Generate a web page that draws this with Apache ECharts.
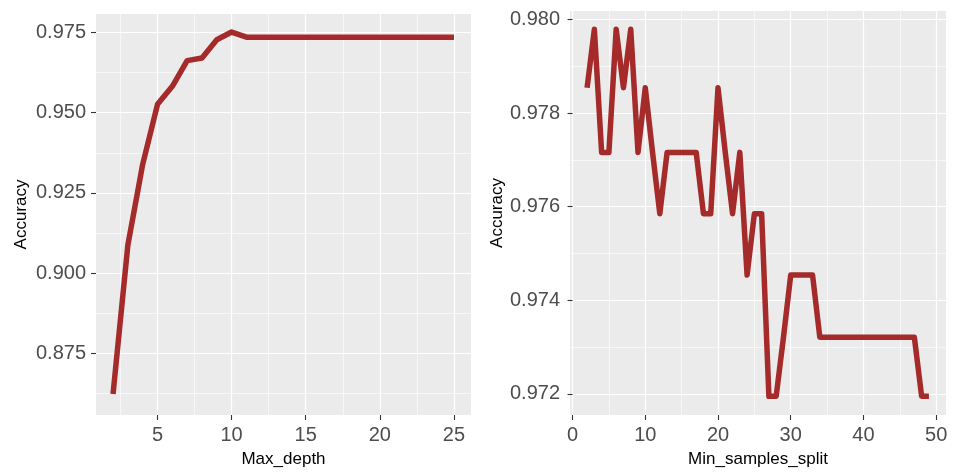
<!DOCTYPE html>
<html>
<head>
<meta charset="utf-8">
<script src="https://cdn.jsdelivr.net/npm/echarts@6/dist/echarts.min.js"></script>
<style>
  html, body { margin: 0; padding: 0; background: #ffffff; }
  #chart { width: 953px; height: 473px; }
</style>
</head>
<body>
<div id="chart"></div>
<script>
// Decision tree tuning: accuracy against max_depth (left) and min_samples_split (right)
const depthValues = [2, 3, 4, 5, 6, 7, 8, 9, 10, 11, 12, 13, 14, 15, 16, 17, 18, 19, 20, 21, 22, 23, 24, 25];
const depthAccuracy = [0.8624, 0.9088, 0.9339, 0.9526, 0.9582, 0.9662, 0.9670, 0.9727, 0.9751, 0.9735,
  0.9735, 0.9735, 0.9735, 0.9735, 0.9735, 0.9735, 0.9735, 0.9735, 0.9735, 0.9735, 0.9735, 0.9735, 0.9735, 0.9735];

const splitValues = [2, 3, 4, 5, 6, 7, 8, 9, 10, 11, 12, 13, 14, 15, 16, 17, 18, 19, 20, 21, 22, 23, 24, 25,
  26, 27, 28, 29, 30, 31, 32, 33, 34, 35, 36, 37, 38, 39, 40, 41, 42, 43, 44, 45, 46, 47, 48, 49];
const splitAccuracy = [
  0.97854, 0.97979, 0.97716, 0.97716, 0.97979, 0.97854, 0.97979, 0.97716, 0.97854, 0.97716,
  0.97585, 0.97716, 0.97716, 0.97716, 0.97716, 0.97716, 0.97585, 0.97585, 0.97854, 0.97716,
  0.97585, 0.97716, 0.97454, 0.97585, 0.97585, 0.97195, 0.97195, 0.97321, 0.97454, 0.97454,
  0.97454, 0.97454, 0.97321, 0.97321, 0.97321, 0.97321, 0.97321, 0.97321, 0.97321, 0.97321,
  0.97321, 0.97321, 0.97321, 0.97321, 0.97321, 0.97321, 0.97195, 0.97195];

// Tick positions (major carry labels, minor only draw thin grid lines)
const depthXTicks = [5, 10, 15, 20, 25];
const depthXMinor = [2.5, 7.5, 12.5, 17.5, 22.5];
const depthYTicks = [0.875, 0.900, 0.925, 0.950, 0.975];
const depthYMinor = [0.8625, 0.8875, 0.9125, 0.9375, 0.9625];
const splitXTicks = [0, 10, 20, 30, 40, 50];
const splitXMinor = [5, 15, 25, 35, 45];
const splitYTicks = [0.972, 0.974, 0.976, 0.978, 0.980];
const splitYMinor = [0.973, 0.975, 0.977, 0.979];

const FONT = 'Liberation Sans, Arial, sans-serif';
const LINE_COLOR = '#A52A2A';

function mainAxis(gridIndex, min, max, ticks, fmt, extra) {
  return Object.assign({
    type: 'value', gridIndex, min, max,
    axisLine: { show: false },
    axisTick: { show: true, length: 5, customValues: ticks, lineStyle: { color: '#333333', width: 1.1 } },
    axisLabel: { customValues: ticks, formatter: fmt, color: '#4D4D4D', fontSize: 20, fontFamily: FONT, margin: 10 },
    splitLine: { show: true, lineStyle: { color: '#FFFFFF', width: 1.2 } },
    nameLocation: 'middle',
    nameTextStyle: { color: '#000000', fontSize: 17, fontFamily: FONT }
  }, extra);
}

function minorAxis(gridIndex, min, max, ticks, position) {
  return {
    type: 'value', gridIndex, min, max, position,
    axisLine: { show: false },
    axisTick: { show: false, customValues: ticks },
    axisLabel: { show: false, customValues: ticks },
    splitLine: { show: true, lineStyle: { color: '#FFFFFF', width: 0.6 } }
  };
}

const fmtInt = v => String(Math.round(v));
const fmt3 = v => v.toFixed(3);

const option = {
  animation: false,
  backgroundColor: '#FFFFFF',
  textStyle: { fontFamily: FONT },
  grid: [
    { left: 96, top: 14, width: 375, height: 404, show: true, backgroundColor: '#EBEBEB', borderWidth: 0 },
    { left: 570, top: 11, width: 376, height: 407, show: true, backgroundColor: '#EBEBEB', borderWidth: 0 }
  ],
  xAxis: [
    mainAxis(0, 0.85, 26.15, depthXTicks, fmtInt, { name: 'Max_depth', nameGap: 36, position: 'bottom' }),
    minorAxis(0, 0.85, 26.15, depthXMinor, 'bottom'),
    mainAxis(1, -0.35, 51.35, splitXTicks, fmtInt, { name: 'Min_samples_split', nameGap: 36, position: 'bottom' }),
    minorAxis(1, -0.35, 51.35, splitXMinor, 'bottom')
  ],
  yAxis: [
    mainAxis(0, 0.85583, 0.98072, depthYTicks, fmt3, { name: 'Accuracy', nameGap: 66, position: 'left' }),
    minorAxis(0, 0.85583, 0.98072, depthYMinor, 'left'),
    mainAxis(1, 0.97155, 0.98018, splitYTicks, fmt3, { name: 'Accuracy', nameGap: 64, position: 'left' }),
    minorAxis(1, 0.97155, 0.98018, splitYMinor, 'left')
  ],
  series: [
    {
      type: 'line', xAxisIndex: 0, yAxisIndex: 0, symbol: 'none', silent: true,
      data: depthValues.map((x, i) => [x, depthAccuracy[i]]),
      lineStyle: { color: LINE_COLOR, width: 5.5, join: 'round', cap: 'butt' }
    },
    {
      type: 'line', xAxisIndex: 2, yAxisIndex: 2, symbol: 'none', silent: true,
      data: splitValues.map((x, i) => [x, splitAccuracy[i]]),
      lineStyle: { color: LINE_COLOR, width: 5.5, join: 'round', cap: 'butt' }
    }
  ]
};

const chart = echarts.init(document.getElementById('chart'), null, { renderer: 'canvas' });
chart.setOption(option);
</script>
</body>
</html>
